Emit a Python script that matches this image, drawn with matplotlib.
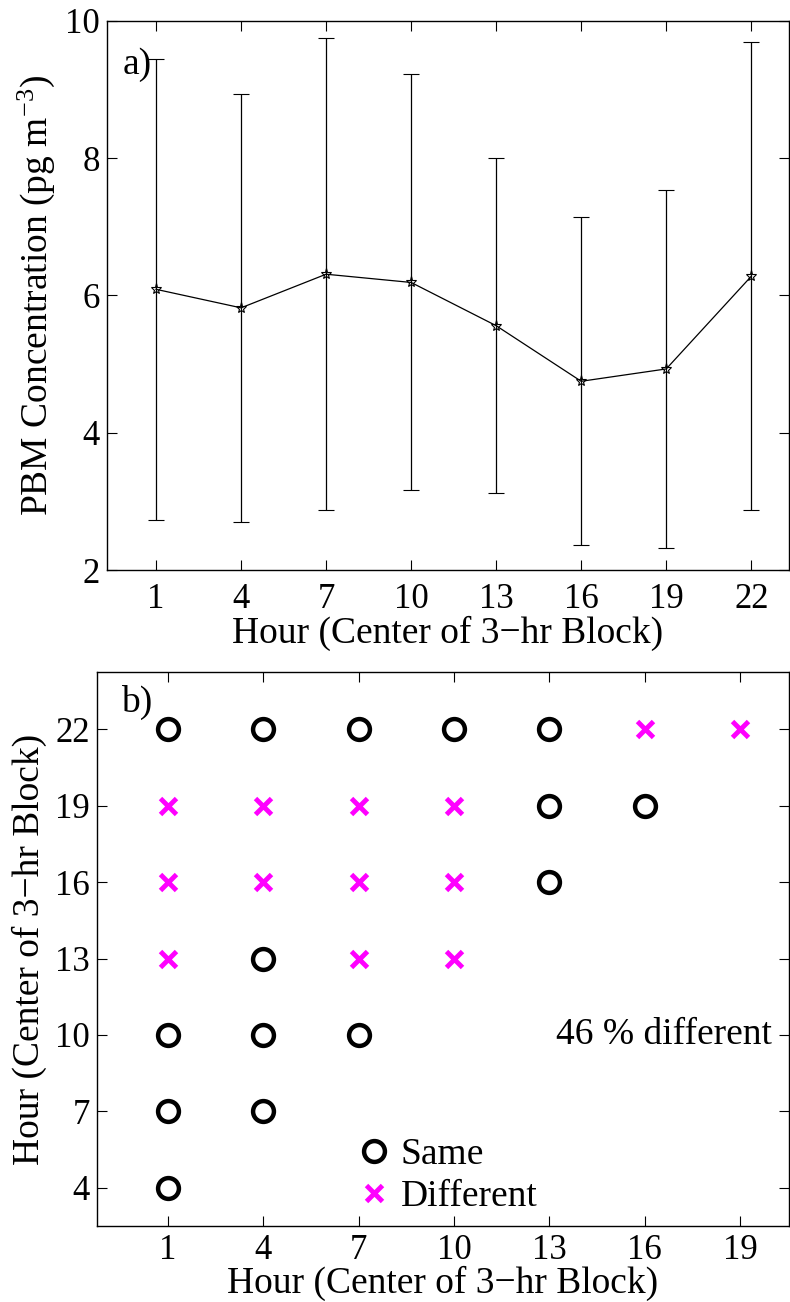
import numpy as np
import matplotlib
matplotlib.use("Agg")
import matplotlib.pyplot as plt

plt.rcParams['font.family'] = ['Liberation Serif', 'DejaVu Serif']
plt.rcParams['mathtext.fontset'] = 'custom'
plt.rcParams['mathtext.rm'] = 'Liberation Serif'
plt.rcParams['mathtext.it'] = 'Liberation Serif:italic'

# hourly blocks and PBM statistics
hours = [1, 4, 7, 10, 13, 16, 19, 22]
pbm_mean = [6.09, 5.82, 6.31, 6.19, 5.56, 4.75, 4.93, 6.28]
pbm_std = [3.36, 3.12, 3.44, 3.03, 2.44, 2.39, 2.61, 3.41]

# pairwise comparison of blocks (x hour, y hour)
same_x = [1, 4, 7, 10, 13, 13, 16, 13, 4, 1, 4, 7, 1, 4, 1]
same_y = [22, 22, 22, 22, 22, 19, 19, 16, 13, 10, 10, 10, 7, 7, 4]
diff_x = [16, 19, 1, 4, 7, 10, 1, 4, 7, 10, 1, 7, 10]
diff_y = [22, 22, 19, 19, 19, 19, 16, 16, 16, 16, 13, 13, 13]
pct_diff = round(100 * len(diff_x) / (len(diff_x) + len(same_x)))

fs = 27   # labels / text
tfs = 25  # tick labels
xlab = 'Hour (Center of 3\u2212hr Block)'

fig = plt.figure(figsize=(7.9, 13.02), dpi=100)
ax1 = fig.add_axes([0.1354, 0.5622, 0.8633, 0.4217])
ax2 = fig.add_axes([0.1228, 0.0584, 0.876, 0.4255])

# a) mean concentration with error bars
ax1.errorbar(hours, pbm_mean, yerr=pbm_std, color='k', lw=0.9, elinewidth=0.9,
             capsize=5.5, capthick=0.9, marker='*', ms=8, mfc='none', mec='k', mew=0.8)
ax1.set_xlim(-0.73, 23.33)
ax1.set_ylim(2, 10)
ax1.set_xticks(hours)
ax1.set_yticks([2, 4, 6, 8, 10])
ax1.set_xlabel(xlab, fontsize=fs, labelpad=0)
ax1.set_ylabel(r'PBM Concentration (pg m$^{\mathregular{-3}}$)', fontsize=fs, labelpad=6)
ax1.text(0.023, 0.952, 'a)', transform=ax1.transAxes, fontsize=fs, va='top', ha='left')

# b) same / different pairs
ax2.plot(same_x, same_y, 'o', ls='none', ms=15, mfc='none', mec='k', mew=3.2, label='Same')
ax2.plot(diff_x, diff_y, 'x', ls='none', ms=11, mec='#ff00ff', mew=3.5, label='Different')
ax2.set_xlim(-1.23, 20.54)
ax2.set_ylim(2.5, 24.25)
ax2.set_xticks(hours[:-1])
ax2.set_yticks(hours[1:])
ax2.set_ylabel(xlab, fontsize=fs, labelpad=6)
ax2.text(0.035, 0.976, 'b)', transform=ax2.transAxes, fontsize=fs, va='top', ha='left')
ax2.text(0.975, 0.345, f'{pct_diff} % different', transform=ax2.transAxes,
         fontsize=fs, va='center', ha='right')
ax2.legend(loc='lower left', bbox_to_anchor=(0.325, -0.0325), frameon=False, fontsize=fs,
           handletextpad=0.1, labelspacing=0.2, handlelength=1.2, borderpad=0.3)

for ax in (ax1, ax2):
    ax.tick_params(direction='in', top=True, right=True, labelsize=tfs, length=7, width=0.8)
    ax.tick_params(axis='x', pad=9)
    ax.tick_params(axis='y', pad=5)
    for s in ax.spines.values():
        s.set_linewidth(1.0)

# bottom panel is tight against the figure edge
ax2.tick_params(axis='x', pad=6)
ax2.set_xlabel(xlab, fontsize=fs, labelpad=-1)

fig.savefig('out.png', dpi=100)
